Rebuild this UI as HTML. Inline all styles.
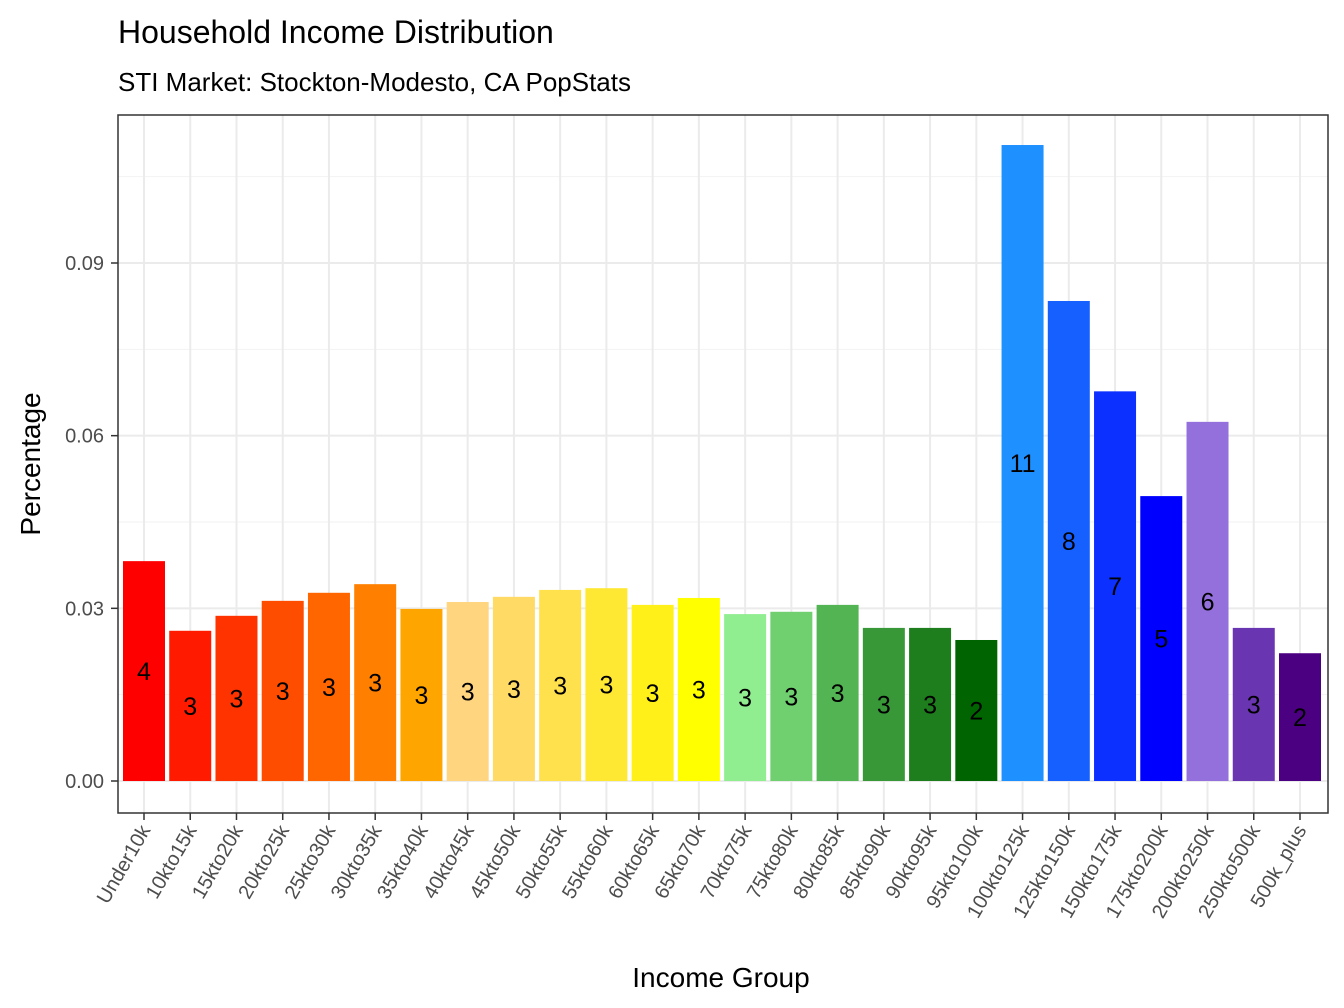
<!DOCTYPE html>
<html><head><meta charset="utf-8"><style>
html,body{margin:0;padding:0;background:#fff;}
svg{display:block;font-family:"Liberation Sans",Arial,sans-serif;}
</style></head><body>
<svg id="chart" width="1344" height="1008" viewBox="0 0 1344 1008">
<text x="118" y="43" font-size="32" fill="#000">Household Income Distribution</text>
<text x="118" y="91" font-size="26" fill="#000">STI Market: Stockton-Modesto, CA PopStats</text>
<g id="grid"></g>
<g id="bars"></g>
<g id="labels"></g>
<rect x="118" y="115" width="1210" height="698" fill="none" stroke="#333" stroke-width="1.5"/>
<g id="yaxis"></g>
<g id="xaxis"></g>
<text x="721" y="987" font-size="28" text-anchor="middle" fill="#000">Income Group</text>
<text transform="translate(40,464) rotate(-90)" font-size="28" text-anchor="middle" fill="#000">Percentage</text>
</svg>
<script>
const categories=["Under10k","10kto15k","15kto20k","20kto25k","25kto30k","30kto35k","35kto40k","40kto45k","45kto50k","50kto55k","55kto60k","60kto65k","65kto70k","70kto75k","75kto80k","80kto85k","85kto90k","90kto95k","95kto100k","100kto125k","125kto150k","150kto175k","175kto200k","200kto250k","250kto500k","500k_plus"];
const values=[0.0382,0.0261,0.0287,0.0313,0.0327,0.0342,0.0299,0.0311,0.0320,0.0332,0.0335,0.0306,0.0318,0.0290,0.0294,0.0306,0.0266,0.0266,0.0245,0.1105,0.0834,0.0677,0.0495,0.0624,0.0266,0.0222];
const barLabels=["4","3","3","3","3","3","3","3","3","3","3","3","3","3","3","3","3","3","2","11","8","7","5","6","3","2"];
const colors=["#FF0000","#FF1A00","#FF3300","#FF4D00","#FF6600","#FF8000","#FFA500","#FFD580","#FFDB66","#FFE14D","#FFE833","#FFF01A","#FFFF00","#90EE90","#70D070","#52B452","#389838","#1E7E1E","#006400","#1E90FF","#1560FF","#0B30FF","#0000FF","#9370DB","#6A35B0","#4B0082"];
const yTicks=[0,0.03,0.06,0.09];
const yTickLabels=["0.00","0.03","0.06","0.09"];
const yMinor=[0.015,0.045,0.075,0.105];

const NS="http://www.w3.org/2000/svg";
const y0=781, yPerUnit=(781-263)/0.09;
const y=v=>y0-v*yPerUnit;
const xStart=144, step=(1300-144)/25, bw=42;
const x=i=>xStart+i*step;
function mk(tag,attrs,parent){const e=document.createElementNS(NS,tag);for(const k in attrs)e.setAttribute(k,attrs[k]);parent.appendChild(e);return e;}
const grid=document.getElementById('grid'),bars=document.getElementById('bars'),labels=document.getElementById('labels'),ya=document.getElementById('yaxis'),xa=document.getElementById('xaxis');
mk('rect',{x:118,y:115,width:1210,height:698,fill:'#fff'},grid);
yMinor.forEach(v=>{const l=mk('line',{x1:118,x2:1328,y1:y(v),y2:y(v),stroke:'#f2f2f2','stroke-width':1},grid);

});
yTicks.forEach((v,i)=>{const l=mk('line',{x1:118,x2:1328,y1:y(v),y2:y(v),stroke:'#ebebeb','stroke-width':2},grid);


const t=mk('line',{x1:111,x2:118,y1:y(v),y2:y(v),stroke:'#333','stroke-width':1.5},ya);


const tx=mk('text',{x:104,y:y(v)+7,'font-size':20,'text-anchor':'end',fill:'#4d4d4d'},ya);
tx.textContent=yTickLabels[i];

});
categories.forEach((c,i)=>{
const g=mk('line',{x1:x(i),x2:x(i),y1:115,y2:813,stroke:'#ebebeb','stroke-width':2},grid);


const r=mk('rect',{x:x(i)-bw/2,y:y(values[i]),width:bw,height:y0-y(values[i]),fill:colors[i]},bars);


const lt=mk('text',{x:x(i),y:(y(values[i])+y0)/2+9,'font-size':25,'text-anchor':'middle',fill:'#000'},labels);
lt.textContent=barLabels[i];


const tk=mk('line',{x1:x(i),x2:x(i),y1:813,y2:820,stroke:'#333','stroke-width':1.5},xa);


const xt=mk('text',{transform:`translate(${x(i)+7},${830}) rotate(-60)`,'font-size':20,'text-anchor':'end',fill:'#4d4d4d'},xa);
xt.textContent=c;


});
</script>
</body></html>
